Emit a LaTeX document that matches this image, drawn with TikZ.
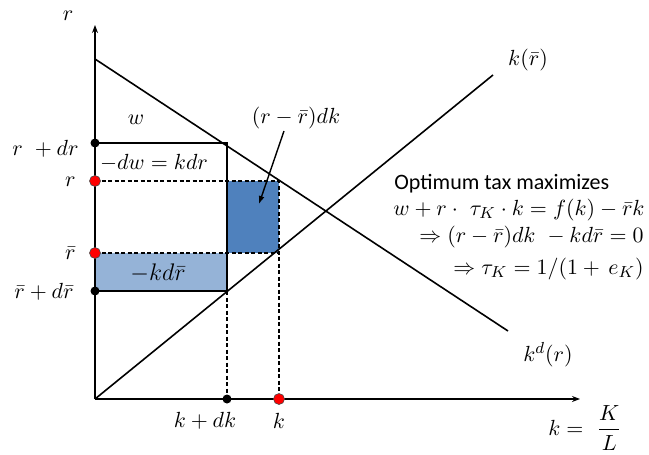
\documentclass[tikz,border=0pt]{standalone}
\usepackage{amsmath}
\usepackage{fontspec}
\setsansfont{Carlito}
\usepackage{tikz}
\usetikzlibrary{arrows.meta}
\definecolor{taxInk}{HTML}{000000}
\definecolor{taxDark}{HTML}{4F81BD}
\definecolor{taxLight}{HTML}{95B3D7}
\definecolor{taxRed}{HTML}{FF0000}
\tikzset{
    tax/axis/.style={
        draw=taxInk, line width=0.9pt,
        -{Stealth[length=4pt,width=3pt]}
    },
    tax/curve/.style={
        draw=taxInk, line width=0.8pt
    },
    tax/edge/.style={
        draw=taxInk, line width=0.8pt
    },
    tax/guide/.style={
        draw=taxInk, line width=0.65pt, dash pattern=on 2pt off 1.25pt
    },
    tax/pointer/.style={
        draw=taxInk, line width=0.7pt, -{Latex[length=4pt,width=3pt]}
    },
    tax/red dot/.style={
        circle, draw=taxInk!70, fill=taxRed, line width=0.3pt,
        minimum size=5.5pt, inner sep=0pt
    },
    tax/black dot/.style={
        circle, fill=taxInk, minimum size=4.5pt, inner sep=0pt
    },
    tax/label/.style={
        font=\fontsize{11}{13}\selectfont, inner sep=0.5pt
    },
    tax/note/.style={
        font=\sffamily\fontsize{11}{13}\selectfont, inner sep=0pt
    }
}

\begin{document}
\begin{tikzpicture}[x=0.5pt, y=-0.5pt]
    \useasboundingbox (0,0) rectangle (649,455);

    % points of the diagram
    \coordinate (origin) at (95,399);
    \coordinate (rtop) at (95,25);
    \coordinate (kend) at (580,399);
    \coordinate (demtop) at (95,59);
    \coordinate (demend) at (508,331);
    \coordinate (supend) at (493,75);
    \coordinate (drcorner) at (227,143);
    \coordinate (rcorner) at (279,181);
    \coordinate (rbarcorner) at (279,253);
    \coordinate (drbarcorner) at (227,291);
    \coordinate (rkcorner) at (227,181);
    \coordinate (rbarkcorner) at (227,253);

    \fill[taxDark] (rkcorner) rectangle (rbarcorner);
    \fill[taxLight] (95,253) rectangle (drbarcorner);

    \draw[tax/curve] (demtop) -- (demend);
    \draw[tax/curve] (origin) -- (supend);

    \draw[tax/edge] (95,143) -- (drcorner) -- (drbarcorner);
    \draw[tax/edge] (95,291) -- (drbarcorner);
    \draw[tax/guide] (95,181) -- (rcorner) -- (279,399);
    \draw[tax/guide] (95,253) -- (rbarcorner);
    \draw[tax/guide] (drbarcorner) -- (227,399);

    \draw[tax/axis] (origin) -- (rtop);
    \draw[tax/axis] (origin) -- (kend);

    \node[tax/black dot] (drdot) at (95,143) {};
    \node[tax/red dot] (rdot) at (95,181) {};
    \node[tax/red dot] (rbardot) at (95,253) {};
    \node[tax/black dot] (drbardot) at (95,291) {};
    \node[tax/black dot] (kdkdot) at (227,399) {};
    \node[tax/red dot] (kdot) at (279,399) {};

    \node[tax/label] (rname) at (68,16) {$r$};
    \node[tax/label] (wname) at (136,120) {$w$};
    \node[tax/label, anchor=east] (drname) at (80,149) {$r\ +dr$};
    \node[tax/label] (dwname) at (154,163) {$-dw=kdr$};
    \node[tax/label, anchor=east] (rlabel) at (77,182) {$r$};
    \node[tax/label, anchor=east] (rbarlabel) at (77,253) {$\bar r$};
    \node[tax/label, anchor=east] (drbarlabel) at (75,292) {$\bar r+d\bar r$};
    \node[tax/label, font=\large] (kdrname) at (158,273) {$-kd\bar r$};
    \node[tax/label] (kdklabel) at (205,421) {$k+dk$};
    \node[tax/label] (klabel) at (279,421) {$k$};
    \node[tax/label] (gapname) at (296,118) {$(r-\bar r)dk$};
    \node[tax/label] (supname) at (528,60) {$k(\bar r)$};
    \node[tax/label] (demname) at (548,355) {$k^d(r)$};
    \node[tax/label] (kaxis) at (585,428) {$k=\ \dfrac{K}{L}$};

    \draw[tax/pointer] (284,131) -- (259,204);

    \node[tax/note, anchor=west] (optline) at (394,184)
        {Optimum tax maximizes};
    \node[tax/label, anchor=west] (objline) at (392,210)
        {$w+r\cdot\ \tau_K\cdot k=f(k)-\bar rk$};
    \node[tax/label, anchor=east] (focline) at (645,237)
        {$\Rightarrow(r-\bar r)dk\ -kd\bar r=0$};
    \node[tax/label, anchor=east] (rateline) at (645,269)
        {$\Rightarrow\tau_K=1/(1+\,e_K)$};
\end{tikzpicture}
\end{document}
